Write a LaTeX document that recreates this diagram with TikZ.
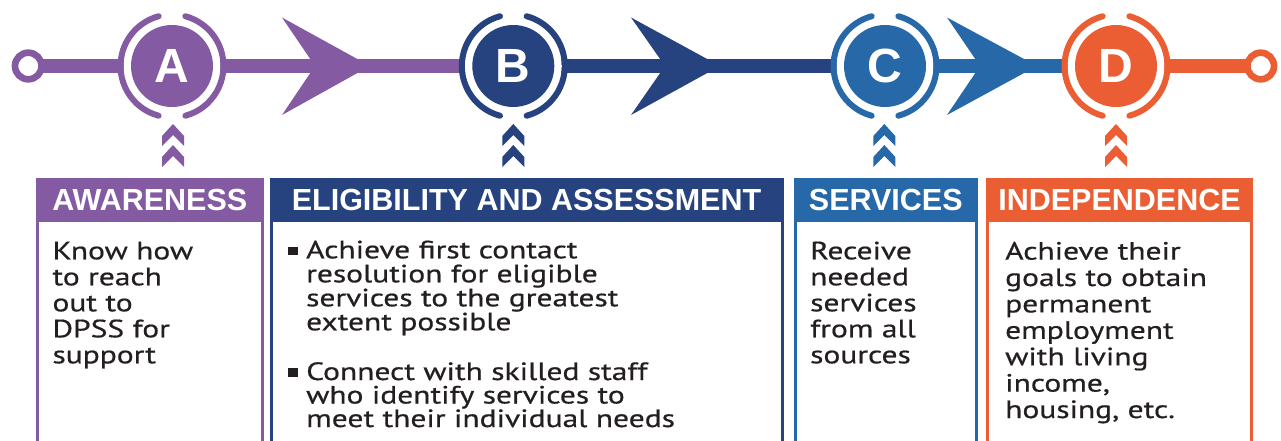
\documentclass[tikz,border=0pt]{standalone}
\usepackage{fontspec}
\setmainfont{PT Sans}[FakeStretch=1.26, FakeBold=0.6]
\newfontfamily\headfont{Liberation Sans}
\definecolor{cpurple}{HTML}{845BA3}
\definecolor{cnavy}{HTML}{26427F}
\definecolor{cblue}{HTML}{2769A8}
\definecolor{corange}{HTML}{EB5E33}
\definecolor{ctext}{HTML}{231F20}
\tikzset{
  track/.style={line width=14pt},
  ring/.style={line width=6.7pt, fill=white},
  halo/.style={line width=6pt, line cap=round},
  disc/.style={circle, inner sep=0pt, minimum size=82pt, text=white,
    font=\headfont\bfseries\fontsize{48pt}{48pt}\selectfont},
  boxline/.style={line width=3pt},
  headtext/.style={anchor=base, text=white, inner sep=0pt,
    font=\headfont\bfseries\fontsize{30.5pt}{31pt}\selectfont},
  body/.style={anchor=base west, inner sep=0pt, align=left, text=ctext,
    font=\fontsize{25pt}{26pt}\selectfont},
  bodyD/.style={body, font=\fontsize{25pt}{26.4pt}\selectfont},
  bodytight/.style={body, font=\fontsize{25pt}{24pt}\selectfont},
  bodytighter/.style={body, font=\fontsize{25pt}{23.5pt}\selectfont},
  chev/.pic={
    \fill (0,0) -- (11,12) -- (11,22) -- (0,11) -- (-11,22) -- (-11,12) -- cycle;
    \fill (0,21) -- (11,33) -- (11,43) -- (0,32) -- (-11,43) -- (-11,33) -- cycle;
  }
}
\begin{document}
\begin{tikzpicture}[x=1pt,y=-1pt]
\useasboundingbox (0,0) rectangle (1281,441);
\clip (0,0) rectangle (1281,441);
% stations
\coordinate (L) at (28.3,66);
\coordinate (R) at (1260.7,66);
\coordinate (pA) at (172,66);
\coordinate (pB) at (513.3,66);
\coordinate (pC) at (885,66);
\coordinate (pD) at (1116,66);
\coordinate (jB) at (461,66);
\coordinate (jC) at (833,66);
\coordinate (jD) at (1064,66);
% track segments
\draw[track, cpurple] (L) -- (jB);
\draw[track, cnavy] (jB) -- (jC);
\draw[track, cblue] (jC) -- (jD);
\draw[track, corange] (jD) -- (R);
% arrowheads
\fill[cpurple] (370,66) -- (282,17.5) -- (315,66) -- (282,115) -- cycle;
\fill[cnavy] (720,66) -- (631,17.5) -- (665,66) -- (631,115) -- cycle;
\fill[cblue] (1037,66) -- (947,17.5) -- (980,66) -- (947,115) -- cycle;
% end rings
\draw[draw=cpurple, ring] (L) circle[radius=13.3];
\draw[draw=corange, ring] (R) circle[radius=13.3];
% station halos
\foreach \p/\c in {pA/cpurple, pB/cnavy, pC/cblue, pD/corange}{
  \fill[white] (\p) circle[radius=48.5];
  \draw[halo, \c] (\p) ++(75:51.5) arc[start angle=75, end angle=-75, radius=51.5];
  \draw[halo, \c] (\p) ++(105:51.5) arc[start angle=105, end angle=255, radius=51.5];
}
\node[disc, fill=cpurple] (A) at (pA) {A};
\node[disc, fill=cnavy] (B) at (pB) {B};
\node[disc, fill=cblue] (C) at (pC) {C};
\node[disc, fill=corange] (D) at (pD) {D};
% chevrons
\pic[cpurple] at (173,124) {chev};
\pic[cnavy] at (513.3,124) {chev};
\pic[cblue] at (884.3,124) {chev};
\pic[corange] at (1116,124) {chev};
% boxes
\fill[cpurple] (37.7,179.3) rectangle (262,221.7);
\draw[boxline, cpurple] (37.7,179.3) rectangle (262,460);
\fill[cnavy] (271.7,179.3) rectangle (782.7,221.7);
\draw[boxline, cnavy] (271.7,179.3) rectangle (782.7,460);
\fill[cblue] (795,179.3) rectangle (976.7,221.7);
\draw[boxline, cblue] (795,179.3) rectangle (976.7,460);
\fill[corange] (987.3,179.3) rectangle (1251.7,221.7);
\draw[boxline, corange] (987.3,179.3) rectangle (1251.7,460);
% headers
\node[headtext] (hA) at (149.8,210.7) {AWARENESS};
\node[headtext] (hB) at (526.5,210.7) {ELIGIBILITY AND ASSESSMENT};
\node[headtext] (hC) at (885.8,210.7) {SERVICES};
\node[headtext] (hD) at (1119.5,210.7) {INDEPENDENCE};
% bodies (anchored at the baseline of the last line)
\node[body] (tA) at (52.3,363.3) {Know how\\to reach\\out to\\DPSS for\\support};
\fill[ctext] (288.3,246.7) rectangle (298.3,255);
\node[bodytight] (tB1) at (306,330.3) {Achieve first contact\\resolution for eligible\\services to the greatest\\extent possible};
\fill[ctext] (288.3,368.4) rectangle (298.3,376.7);
\node[bodytighter] (tB2) at (306,427) {Connect with skilled staff\\who identify services to\\meet their individual needs};
\node[body] (tC) at (810,363.3) {Receive\\needed\\services\\from all\\sources};
\node[bodyD] (tD) at (1005,418) {Achieve their\\goals to obtain\\permanent\\employment\\with living\\income,\\housing, etc.};
\end{tikzpicture}
\end{document}
